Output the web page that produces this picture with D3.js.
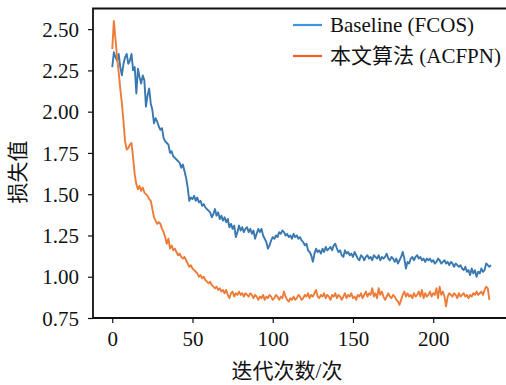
<!DOCTYPE html>
<html>
<head>
<meta charset="utf-8">
<script src="https://cdn.jsdelivr.net/npm/d3@7"></script>
<style>
  body { margin: 0; background: #fff; }
</style>
</head>
<body>
<div class="graph"></div>
<script>
/*---------- DATA ----------*/

//loss per iteration
const baseline = [
  2.27, 2.36, 2.33, 2.31, 2.35, 2.27, 2.22, 2.29, 2.33, 2.35,
  2.29, 2.31, 2.35, 2.25, 2.27, 2.11, 2.26, 2.21, 2.17, 2.22,
  2.19, 2.03, 2.10, 2.14, 2.05, 2.01, 1.93, 1.96, 1.94, 1.91,
  1.89, 1.90, 1.84, 1.82, 1.81, 1.80, 1.75, 1.76, 1.73, 1.72,
  1.71, 1.70, 1.69, 1.66, 1.68, 1.64, 1.60, 1.54, 1.46, 1.48,
  1.47, 1.49, 1.46, 1.48, 1.45, 1.46, 1.43, 1.44, 1.42, 1.41,
  1.40, 1.39, 1.36, 1.38, 1.41, 1.37, 1.39, 1.35, 1.37, 1.34,
  1.36, 1.33, 1.35, 1.30, 1.32, 1.29, 1.31, 1.24, 1.27, 1.31,
  1.28, 1.30, 1.27, 1.29, 1.30, 1.27, 1.29, 1.26, 1.28, 1.23,
  1.26, 1.29, 1.27, 1.29, 1.25, 1.23, 1.21, 1.17, 1.19, 1.22,
  1.24, 1.23, 1.25, 1.24, 1.27, 1.26, 1.28, 1.27, 1.25, 1.26,
  1.24, 1.25, 1.23, 1.26, 1.24, 1.25, 1.23, 1.24, 1.22, 1.21,
  1.19, 1.20, 1.16, 1.15, 1.13, 1.09, 1.14, 1.17, 1.15, 1.16,
  1.14, 1.17, 1.15, 1.18, 1.16, 1.17, 1.18, 1.16, 1.19, 1.20,
  1.17, 1.15, 1.16, 1.13, 1.12, 1.16, 1.14, 1.15, 1.13, 1.14,
  1.12, 1.15, 1.13, 1.11, 1.10, 1.13, 1.12, 1.10, 1.12, 1.13,
  1.11, 1.12, 1.10, 1.13, 1.12, 1.11, 1.13, 1.10, 1.12, 1.11,
  1.12, 1.14, 1.11, 1.10, 1.12, 1.11, 1.09, 1.11, 1.08, 1.10,
  1.12, 1.15, 1.11, 1.05, 1.09, 1.08, 1.11, 1.12, 1.10, 1.12,
  1.13, 1.11, 1.12, 1.10, 1.11, 1.09, 1.11, 1.10, 1.11, 1.09,
  1.10, 1.08, 1.09, 1.11, 1.10, 1.08, 1.09, 1.10, 1.08, 1.09,
  1.07, 1.09, 1.08, 1.06, 1.08, 1.07, 1.06, 1.07, 1.05, 1.04,
  1.06, 1.03, 1.04, 1.01, 1.05, 1.02, 1.04, 1.00, 1.03, 1.02,
  1.05, 1.03, 1.04, 1.08, 1.07, 1.06, 1.07
];

const acfpn = [
  2.38, 2.55, 2.44, 2.33, 2.24, 2.14, 2.05, 1.94, 1.82, 1.77,
  1.78, 1.80, 1.81, 1.72, 1.62, 1.56, 1.53, 1.55, 1.52, 1.54,
  1.51, 1.50, 1.49, 1.47, 1.46, 1.41, 1.36, 1.34, 1.32, 1.33,
  1.32, 1.29, 1.27, 1.24, 1.20, 1.23, 1.17, 1.19, 1.16, 1.17,
  1.15, 1.13, 1.14, 1.12, 1.11, 1.12, 1.10, 1.08, 1.06, 1.07,
  1.05, 1.04, 1.03, 1.02, 1.00, 1.01, 0.99, 1.00, 0.98, 0.97,
  0.96, 0.97, 0.95, 0.94, 0.93, 0.94, 0.92, 0.93, 0.91, 0.92,
  0.90, 0.92, 0.89, 0.87, 0.90, 0.91, 0.88, 0.90, 0.89, 0.91,
  0.89, 0.90, 0.88, 0.90, 0.89, 0.88, 0.90, 0.89, 0.87, 0.89,
  0.88, 0.86, 0.88, 0.87, 0.89, 0.86, 0.88, 0.87, 0.89, 0.88,
  0.86, 0.87, 0.89, 0.88, 0.86, 0.88, 0.87, 0.91, 0.88, 0.86,
  0.85, 0.87, 0.86, 0.88, 0.86, 0.87, 0.89, 0.88, 0.86, 0.87,
  0.89, 0.88, 0.90, 0.87, 0.89, 0.88, 0.90, 0.92, 0.88, 0.87,
  0.89, 0.88, 0.90, 0.87, 0.89, 0.88, 0.86, 0.89, 0.88, 0.90,
  0.87, 0.89, 0.88, 0.86, 0.88, 0.90, 0.87, 0.89, 0.88, 0.90,
  0.87, 0.88, 0.86, 0.89, 0.88, 0.90, 0.87, 0.89, 0.91, 0.88,
  0.90, 0.89, 0.93, 0.88, 0.90, 0.87, 0.93, 0.89, 0.91, 0.88,
  0.86, 0.88, 0.90, 0.88, 0.87, 0.89, 0.88, 0.86, 0.85, 0.83,
  0.86, 0.89, 0.91, 0.88, 0.90, 0.88, 0.89, 0.87, 0.90, 0.88,
  0.89, 0.91, 0.88, 0.92, 0.87, 0.90, 0.88, 0.89, 0.91, 0.88,
  0.90, 0.89, 0.93, 0.87, 0.94, 0.89, 0.91, 0.88, 0.82, 0.88,
  0.90, 0.89, 0.88, 0.90, 0.89, 0.87, 0.90, 0.88, 0.89, 0.90,
  0.88, 0.89, 0.87, 0.89, 0.88, 0.90, 0.89, 0.91, 0.89, 0.90,
  0.91, 0.89, 0.92, 0.94, 0.93, 0.86
];

const seriesNames = ["Baseline (FCOS)", "本文算法 (ACFPN)"];
const xTicks = [0, 50, 100, 150, 200];
const yTicks = [0.75, 1.00, 1.25, 1.50, 1.75, 2.00, 2.25, 2.50];
const xTitle = "迭代次数/次";
const yTitle = "损失值";

/*---------- D3 STUFF ----------*/

const SIZE = {X: 506, Y: 385};
const PLOT = {LEFT: 93, RIGHT: 508, TOP: 8.5, BOTTOM: 318};
const FONT = "'Liberation Serif', 'Times New Roman', Times, 'DejaVu Serif', 'Noto Sans CJK SC', serif";
const FS = "21px";
const LINE_COLORS = ["#3a78b1", "#ee7c38"];
const KEY_COLORS = ["#3f95de", "#ff5b27"];

const svg = d3.select(".graph").append("svg")
    .attr("width", SIZE.X)
    .attr("height", SIZE.Y)
    .style("font-family", FONT);

//scales
const x = d3.scaleLinear()
    .domain([-12, 246.6])
    .range([PLOT.LEFT, PLOT.RIGHT]);

const y = d3.scaleLinear()
    .domain([0.75, 2.625])
    .range([PLOT.BOTTOM, PLOT.TOP]);

//lines
const line = d3.line()
    .x((d, i) => x(i))
    .y(d => y(d));

[baseline, acfpn].forEach((data, k) => {
    svg.append("path")
        .attr("fill", "none")
        .attr("stroke", LINE_COLORS[k])
        .attr("stroke-width", 1.9)
        .attr("stroke-linejoin", "round")
        .attr("d", line(data));
});

//axes
const xAxis = svg.append("g")
    .attr("transform", `translate(0, ${PLOT.BOTTOM})`)
    .call(d3.axisBottom(x).tickValues(xTicks).tickSize(5).tickPadding(8));

const yAxis = svg.append("g")
    .attr("transform", `translate(${PLOT.LEFT}, 0)`)
    .call(d3.axisLeft(y).tickValues(yTicks).tickFormat(d3.format(".2f")).tickSize(5).tickPadding(9));

[xAxis, yAxis].forEach(a => {
    a.attr("font-family", FONT);
    a.select(".domain").remove();
    a.selectAll(".tick line").attr("stroke", "#111").attr("stroke-width", 1.2);
    a.selectAll(".tick text")
        .style("font-family", FONT)
        .style("font-size", FS)
        .attr("fill", "#111");
});
yAxis.selectAll(".tick text").attr("dy", "0.34em");

//frame (right edge sits outside the picture)
svg.append("path")
    .attr("fill", "none")
    .attr("stroke", "#111")
    .attr("stroke-width", 1.8)
    .attr("d", `M${PLOT.RIGHT},${PLOT.TOP}H${PLOT.LEFT}V${PLOT.BOTTOM}H${PLOT.RIGHT}`);

//axis titles
svg.append("text")
    .attr("x", 287)
    .attr("y", 378)
    .attr("text-anchor", "middle")
    .style("font-family", FONT)
    .style("font-size", FS)
    .attr("fill", "#111")
    .text(xTitle);

svg.append("text")
    .attr("transform", "translate(25, 172) rotate(-90)")
    .attr("text-anchor", "middle")
    .style("font-family", FONT)
    .style("font-size", FS)
    .attr("fill", "#111")
    .text(yTitle);

//legend
const legend = svg.append("g")
    .attr("transform", "translate(293, 25)");

seriesNames.forEach((name, k) => {
    const row = legend.append("g")
        .attr("transform", `translate(0, ${k * 31})`);
    row.append("line")
        .attr("x1", 0).attr("x2", 29)
        .attr("stroke", KEY_COLORS[k])
        .attr("stroke-width", 2.2);
    row.append("text")
        .attr("x", 37)
        .attr("dy", "0.35em")
        .style("font-family", FONT)
        .style("font-size", FS)
        .attr("fill", "#111")
        .text(name);
});
</script>
</body>
</html>
